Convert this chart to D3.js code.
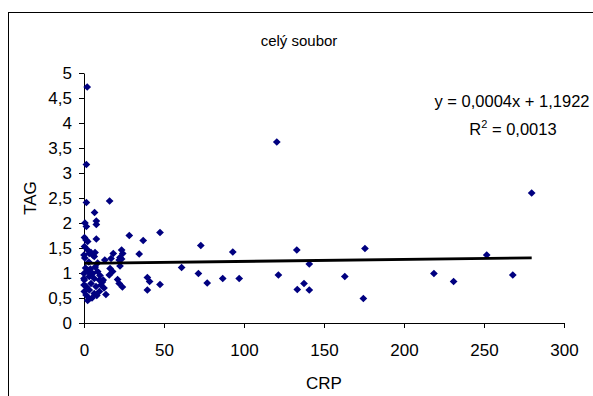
<!DOCTYPE html>
<html>
<head>
<meta charset="utf-8">
<script src="https://cdn.jsdelivr.net/npm/d3@7"></script>
<style>
  body { margin: 0; background: #fff; }
  svg { display: block; }
  text { font-family: "Liberation Sans", Arial, sans-serif; fill: #000; }
</style>
</head>
<body>
<div id="chart"></div>
<script>
// CRP values (x) and TAG values (y)
const crp = [
  120.5, 279.8, 47.5, 73, 93, 133, 175.6, 251.7, 140.8, 61,
  71.5, 77, 86.7, 97, 121.5, 133.3, 137.5, 140.8, 163, 174.6,
  218.7, 231, 268, 47.5, 41, 39.6, 39.6, 37, 34.5, 28.3,
  23.5, 22.5, 23.5, 22.5, 24.2, 18.3, 16, 21, 22, 24,
  15.8, 17.9, 13.7, 12, 13, 16.3, 16.9, 22,
  2, 1.5, 1.5, 6.6, 7.7, 7.7, 0.6, 1.5, 0.3, 1.3,
  2.3, 7.7, 0.3, 0, 2.3, 4.4, 6.9, 3.3, 5.4, 6.4,
  0.5, 3, 8.5, 0, 2.3, 5.4, 8.5, 0, 0.2, 3.3,
  6.4, 9.6, 0, 1.3, 4.4, 7.5, 10.6, 0.2, 3.3, 6.4,
  9.6, 1.3, 3.3, 2.3, 5, 8, 1, 4, 7, 10,
  11.5, 12.5
];
const tag = [
  3.62, 2.60, 1.81, 1.55, 1.42, 1.46, 1.49, 1.36, 1.18, 1.11,
  0.99, 0.80, 0.89, 0.89, 0.96, 0.67, 0.79, 0.66, 0.93, 0.49,
  0.99, 0.83, 0.96, 0.77, 0.83, 0.91, 0.66, 1.65, 1.38, 1.75,
  1.46, 1.31, 1.28, 1.14, 1.39, 1.39, 2.44, 0.87, 0.79, 0.72,
  0.96, 1.03, 0.57, 0.86, 1.26, 1.09, 1.29, 1.26,
  4.72, 3.17, 2.41, 2.21, 2.04, 1.97, 2.00, 1.93, 1.71, 1.66,
  1.63, 1.68, 1.53, 1.36, 1.46, 1.41, 1.41, 1.39, 1.36, 1.33,
  1.30, 1.22, 1.20, 0.99, 1.03, 0.99, 1.03, 0.89, 0.86, 0.93,
  0.89, 0.86, 0.76, 0.73, 0.79, 0.73, 0.76, 0.63, 0.66, 0.59,
  0.63, 0.56, 0.49, 0.45, 0.50, 0.55, 1.10, 1.08, 1.12, 0.95,
  0.82, 0.70
];

const xTicks = [0, 50, 100, 150, 200, 250, 300];
const yTicks = [0, 0.5, 1, 1.5, 2, 2.5, 3, 3.5, 4, 4.5, 5];
const yTickLabels = ['0', '0,5', '1', '1,5', '2', '2,5', '3', '3,5', '4', '4,5', '5'];

// linear trend as printed on the chart
const trendSlope = 0.0004;
const trendIntercept = 1.1922;

const W = 593, H = 396;
const svg = d3.select('#chart').append('svg')
  .attr('width', W).attr('height', H);

// chart area frame (runs off the bottom/right edge like the original)
svg.append('rect')
  .attr('x', 8.5).attr('y', 12.5)
  .attr('width', 640).attr('height', 440)
  .attr('fill', '#fff').attr('stroke', '#000').attr('stroke-width', 1);

const x = d3.scaleLinear().domain([0, 300]).range([84, 564]);
const y = d3.scaleLinear().domain([0, 5]).range([323, 73]);

// x axis
svg.append('g')
  .attr('transform', `translate(0, ${y(0)})`)
  .call(d3.axisBottom(x).tickValues(xTicks).tickSize(5).tickSizeOuter(0).tickPadding(16))
  .call(g => g.select('.domain').attr('stroke', '#000'))
  .call(g => g.selectAll('.tick line').attr('stroke', '#000'))
  .call(g => g.selectAll('.tick text').attr('font-size', 17).attr('font-family', '"Liberation Sans", Arial, sans-serif'));

// y axis
svg.append('g')
  .attr('transform', `translate(${x(0)}, 0)`)
  .call(d3.axisLeft(y).tickValues(yTicks).tickSize(5).tickSizeOuter(0).tickPadding(7)
    .tickFormat((d, i) => yTickLabels[i]))
  .call(g => g.select('.domain').attr('stroke', '#000'))
  .call(g => g.selectAll('.tick line').attr('stroke', '#000'))
  .call(g => g.selectAll('.tick text').attr('font-size', 17).attr('font-family', '"Liberation Sans", Arial, sans-serif'));

// diamond markers
const diamond = {
  draw(ctx, size) {
    const r = Math.sqrt(size / 2);
    ctx.moveTo(0, -r); ctx.lineTo(r, 0); ctx.lineTo(0, r); ctx.lineTo(-r, 0); ctx.closePath();
  }
};
const points = crp.map((c, i) => ({ crp: c, tag: tag[i] }));
svg.append('g')
  .selectAll('path')
  .data(points)
  .enter()
  .append('path')
  .attr('transform', d => `translate(${x(d.crp)}, ${y(d.tag)})`)
  .attr('d', d3.symbol().type(diamond).size(30))
  .attr('fill', '#000080');

// trend line over the data range
const xExt = d3.extent(crp);
svg.append('line')
  .attr('x1', x(xExt[0])).attr('y1', y(trendIntercept + trendSlope * xExt[0]))
  .attr('x2', x(xExt[1])).attr('y2', y(trendIntercept + trendSlope * xExt[1]))
  .attr('stroke', '#000').attr('stroke-width', 2.8);

// title
svg.append('text')
  .attr('x', 299).attr('y', 46)
  .attr('text-anchor', 'middle').attr('font-size', 15)
  .text('celý soubor');

// equation label
svg.append('text')
  .attr('x', 512).attr('y', 107)
  .attr('text-anchor', 'middle').attr('font-size', 16.5)
  .text('y = 0,0004x + 1,1922');
const r2 = svg.append('text')
  .attr('x', 513).attr('y', 135)
  .attr('text-anchor', 'middle').attr('font-size', 16.5);
r2.append('tspan').text('R');
r2.append('tspan').attr('font-size', 11).attr('dy', -7).text('2');
r2.append('tspan').attr('dy', 7).text(' = 0,0013');

// axis titles
svg.append('text')
  .attr('transform', `translate(36, 198) rotate(-90)`)
  .attr('text-anchor', 'middle').attr('font-size', 17)
  .text('TAG');
svg.append('text')
  .attr('x', 324).attr('y', 389)
  .attr('text-anchor', 'middle').attr('font-size', 17)
  .text('CRP');
</script>
</body>
</html>
